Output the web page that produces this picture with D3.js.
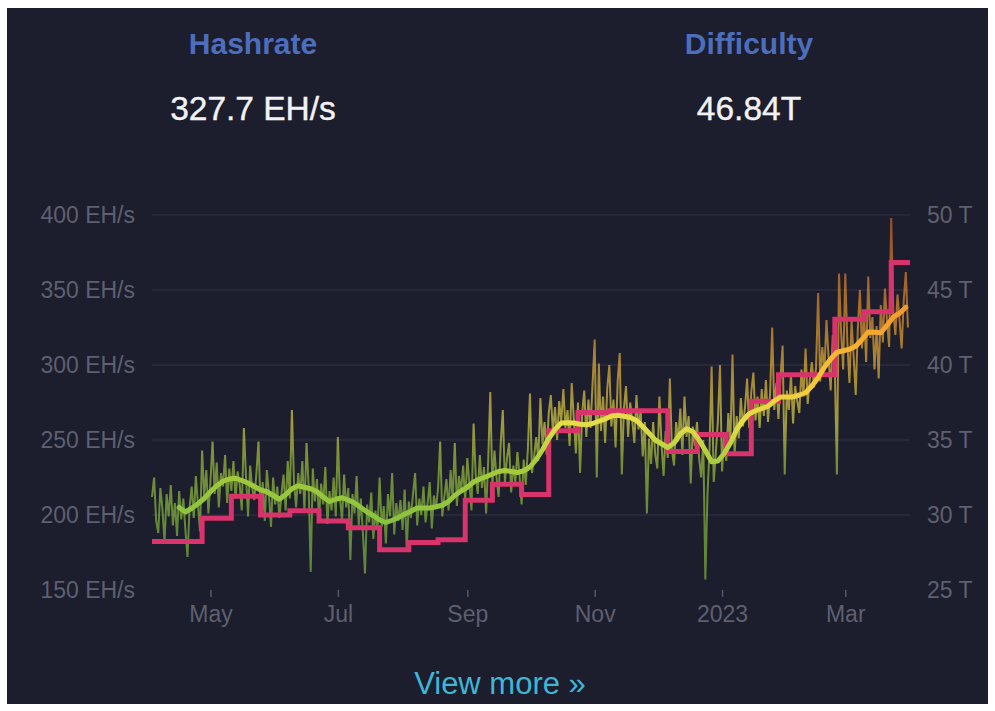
<!DOCTYPE html>
<html>
<head>
<meta charset="utf-8">
<script src="https://cdn.jsdelivr.net/npm/d3@7"></script>
<style>
  body { margin: 0; background: #ffffff; }
  svg { display: block; font-family: "Liberation Sans", Arial, sans-serif; }
  .axis text { fill: #5e6070; font-size: 23px; }
  .axis path.domain { display: none; }
</style>
</head>
<body>
<svg id="chart" width="995" height="711"></svg>
<script>
// daily hashrate (EH/s), first day 2022-04-03
const hashStart = "2022-04-03";
const hashrate = [
  212, 225, 196, 188, 218, 204, 182, 214, 199, 220,
  193, 208, 186, 216, 197, 211, 190, 172, 205, 219,
  198, 226, 207, 189, 243, 212, 230, 201, 222, 249,
  214, 235, 205, 228, 219, 240, 208, 231, 216, 236,
  211, 229, 220, 203, 258, 226, 199, 233, 218, 210,
  228, 249, 204, 222, 196, 230, 214, 192, 225, 207,
  219, 198, 214, 227, 203, 236, 211, 270, 222, 205,
  228, 214, 236, 202, 248, 220, 162, 231, 209, 224,
  198, 221, 207, 232, 194, 216, 203, 225, 199, 252,
  212, 196, 227, 205, 218, 170, 214, 201, 226, 193,
  211, 188, 161, 207, 195, 215, 184, 203, 190, 225,
  192, 206, 181, 214, 199, 228, 187, 208, 196, 210,
  190, 217, 177, 209, 198, 214, 228, 193, 211, 200,
  219, 195, 208, 222, 191, 213, 204, 218, 249, 199,
  212, 224, 203, 230, 210, 248, 206, 226, 215, 233,
  209, 238, 221, 203, 261, 227, 214, 240, 218, 232,
  201, 236, 282, 219, 243, 225, 212, 248, 270, 221,
  238, 248, 215, 233, 222, 242, 226, 207, 237, 220,
  244, 281, 228, 239, 252, 236, 278, 247, 262, 240,
  268, 280, 255, 272, 250, 276, 262, 284, 258, 270,
  246, 288, 264, 241, 275, 228, 268, 283, 252, 277,
  258, 288, 317, 225, 301, 256, 279, 248, 284, 300,
  259, 277, 245, 289, 308, 227, 271, 286, 252, 275,
  263, 248, 280, 257, 270, 239, 262, 201, 251, 234,
  262, 240, 231, 279, 247, 226, 256, 238, 291, 243,
  233, 262, 249, 271, 240, 279, 252, 266, 221, 259,
  246, 262, 238, 225, 250, 157, 213, 244, 299, 222,
  241, 263, 300, 229, 254, 236, 268, 249, 307, 240,
  266, 251, 278, 259, 272, 291, 258, 282, 295, 263,
  279, 258, 284, 266, 290, 262, 281, 325, 270, 288,
  264, 292, 313, 227, 283, 270, 294, 261, 286, 276,
  268, 297, 279, 311, 274, 290, 302, 285, 298, 348,
  289, 312, 296, 330, 305, 283, 320, 298, 227, 361,
  322, 297, 361, 315, 288, 330, 306, 280, 324, 350,
  311, 335, 302, 359, 318, 332, 297, 326, 291, 340,
  315, 351, 329, 312, 398, 336, 320, 347, 330, 311,
  343, 362, 325
];

// 7-day average, one reading every 3 days from 2022-04-16
const maStart = "2022-04-16";
const maStepDays = 3;
const hashrateMA = [
  205, 202, 204.5, 207.5, 211, 215.5, 219.5, 222.5, 224, 224.5,
  223, 221.3, 219, 216.7, 215.5, 213, 210.5, 213.5, 217.5, 219.5,
  218.5, 217.5, 215.5, 212, 209, 210.5, 211.5, 210, 208, 205,
  202, 199.5, 196.7, 195, 196.5, 198.3, 200.5, 202.5, 204.7, 204.7,
  204.7, 205.5, 206.5, 209, 213, 216, 218.5, 222, 224, 225.5,
  227.3, 229, 229.7, 229, 228.3, 229.5, 232, 237, 243.5, 251,
  257, 261.3, 261.5, 261.3, 260.5, 260.2, 261, 262.5, 264, 266,
  266.5, 265.8, 265, 263, 259, 254.5, 250, 247.5, 245, 248,
  254, 257.5, 255.5, 250, 243, 235.5, 236, 241, 248, 257,
  263, 267.5, 269.5, 271, 272.5, 276, 278.7, 278.7, 278.7, 280,
  281.5, 286, 291.5, 298.5, 304, 308.5, 309.5, 310.5, 312.5, 317,
  322, 321.8, 321.5, 326.5, 332, 334.5, 338.5
];

// difficulty adjustments (T)
const diffDates = [
  "2022-04-03", "2022-04-27", "2022-05-11", "2022-05-25", "2022-06-08",
  "2022-06-22", "2022-07-06", "2022-07-21", "2022-08-04", "2022-08-18",
  "2022-08-31", "2022-09-13", "2022-09-27", "2022-10-10", "2022-10-24",
  "2022-11-08", "2022-12-06", "2022-12-20", "2023-01-03", "2023-01-15",
  "2023-01-28", "2023-02-24", "2023-03-10", "2023-03-23"
];
const difficulty = [
  28.23, 29.79, 31.25, 30.0, 30.28,
  29.6, 29.15, 27.69, 28.17, 28.35,
  30.98, 32.05, 31.36, 35.61, 36.84,
  36.95, 34.24, 35.36, 34.09, 37.59,
  39.35, 43.05, 43.55, 46.84
];
const endDate = "2023-04-01";

const hashTicks = [150, 200, 250, 300, 350, 400];
const diffTicks = [25, 30, 35, 40, 45, 50];

const parse = d3.timeParse("%Y-%m-%d");
const svg = d3.select("svg#chart");

// dark card
svg.append("rect")
  .attr("x", 7).attr("y", 8)
  .attr("width", 981).attr("height", 696)
  .attr("fill", "#1c1d2d");

// header
const header = [
  {title: "Hashrate", value: "327.7 EH/s", x: 253},
  {title: "Difficulty", value: "46.84T", x: 749}
];
header.forEach(function(h) {
  svg.append("text")
    .attr("x", h.x).attr("y", 54)
    .attr("text-anchor", "middle")
    .attr("font-size", 30).attr("font-weight", "bold")
    .attr("fill", "#4d6dbd")
    .text(h.title);
  svg.append("text")
    .attr("x", h.x).attr("y", 120)
    .attr("text-anchor", "middle")
    .attr("font-size", 33.5)
    .attr("fill", "#f2f2f4")
    .attr("stroke", "#f2f2f4").attr("stroke-width", 0.4)
    .text(h.value);
});

// scales
const x = d3.scaleTime()
  .domain([parse(hashStart), parse(endDate)])
  .range([152, 910]);
const yHash = d3.scaleLinear().domain([150, 400]).range([590, 215]);
const yDiff = d3.scaleLinear().domain([25, 50]).range([590, 215]);

// grid
svg.append("g").selectAll("line")
  .data(hashTicks.slice(1))
  .enter()
  .append("line")
  .attr("x1", 152).attr("x2", 910)
  .attr("y1", d => yHash(d)).attr("y2", d => yHash(d))
  .attr("stroke", "#2b2d3e").attr("stroke-width", 1.5);

// axes
svg.append("g")
  .attr("class", "axis")
  .attr("transform", translate(140, 0))
  .call(d3.axisLeft(yHash).tickValues(hashTicks).tickSize(0).tickPadding(5)
    .tickFormat(d => d + " EH/s"));

svg.append("g")
  .attr("class", "axis")
  .attr("transform", translate(922, 0))
  .call(d3.axisRight(yDiff).tickValues(diffTicks).tickSize(0).tickPadding(5)
    .tickFormat(d => d + " T"));

const fmtMonth = d3.timeFormat("%b");
const fmtYear = d3.timeFormat("%Y");
const bottomAxis = svg.append("g")
  .attr("class", "axis")
  .attr("transform", translate(0, 590))
  .call(d3.axisBottom(x).ticks(d3.timeMonth.every(2)).tickSize(7).tickPadding(9)
    .tickFormat(d => d.getMonth() === 0 ? fmtYear(d) : fmtMonth(d)));
bottomAxis.selectAll(".tick line").attr("stroke", "#55586a").attr("stroke-width", 1.5);
bottomAxis.select("path.domain").style("display", null)
  .attr("stroke", "#55586a").attr("stroke-width", 2);

// colour gradient by hashrate value
const gradStops = [
  {v: 190, c: "#86c03e"},
  {v: 235, c: "#a8cc3c"},
  {v: 262, c: "#e6de48"},
  {v: 295, c: "#f5c238"},
  {v: 330, c: "#f4a02c"},
  {v: 400, c: "#d9682a"}
];
const grad = svg.append("defs").append("linearGradient")
  .attr("id", "hashGrad")
  .attr("gradientUnits", "userSpaceOnUse")
  .attr("x1", 0).attr("x2", 0)
  .attr("y1", yHash(190)).attr("y2", yHash(400));
grad.selectAll("stop")
  .data(gradStops)
  .enter()
  .append("stop")
  .attr("offset", d => (d.v - 190) / (400 - 190))
  .attr("stop-color", d => d.c);

const startDay = parse(hashStart);
const rawData = hashrate.map((v, i) => ({date: d3.timeDay.offset(startDay, i), v: v}));
const maDay = parse(maStart);
const maData = hashrateMA.map((v, i) => ({date: d3.timeDay.offset(maDay, i * maStepDays), v: v}));
const diffData = diffDates.map((d, i) => ({date: parse(d), v: difficulty[i]}));
diffData.push({date: parse(endDate), v: difficulty[difficulty.length - 1]});

const hashLine = d3.line().x(d => x(d.date)).y(d => yHash(d.v));

svg.append("path")
  .datum(rawData)
  .attr("d", hashLine)
  .attr("fill", "none")
  .attr("stroke", "url(#hashGrad)")
  .attr("stroke-width", 2)
  .attr("stroke-opacity", 0.65);

svg.append("path")
  .datum(diffData)
  .attr("d", d3.line().curve(d3.curveStepAfter).x(d => x(d.date)).y(d => yDiff(d.v)))
  .attr("fill", "none")
  .attr("stroke", "#d8336a")
  .attr("stroke-width", 5);

svg.append("path")
  .datum(maData)
  .attr("d", hashLine)
  .attr("fill", "none")
  .attr("stroke", "url(#hashGrad)")
  .attr("stroke-width", 5)
  .attr("stroke-linejoin", "round")
  .attr("stroke-linecap", "round");

// footer link
svg.append("text")
  .attr("x", 500).attr("y", 694)
  .attr("text-anchor", "middle")
  .attr("font-size", 31)
  .attr("fill", "#3fb6d6")
  .text("View more \u00bb");

function translate(x, y) {
  return "translate(" + String(x) + "," + String(y) + ")";
}
</script>
</body>
</html>
